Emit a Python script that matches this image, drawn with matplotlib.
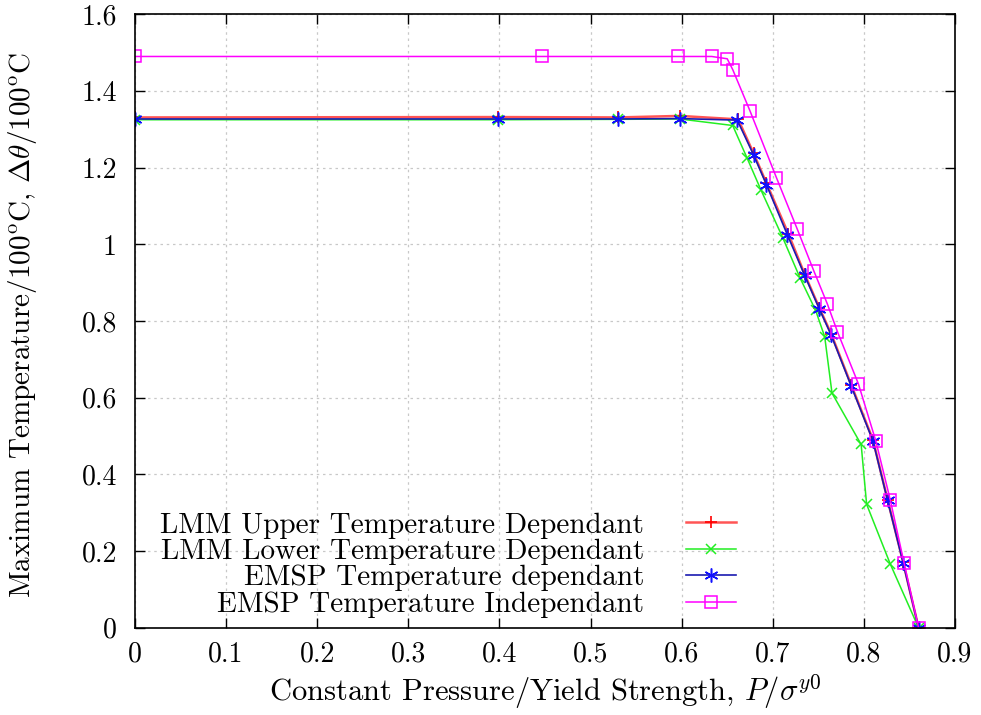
import matplotlib
matplotlib.use('Agg')
import matplotlib.pyplot as plt
from matplotlib.ticker import FuncFormatter, MultipleLocator

plt.rcParams['font.family'] = ['cmr10', 'DejaVu Serif']
plt.rcParams['mathtext.fontset'] = 'cm'
plt.rcParams['axes.formatter.use_mathtext'] = True

# LMM upper temperature dependant
xUpper = [0.0, 0.398, 0.530, 0.598, 0.662, 0.679, 0.693, 0.717, 0.735, 0.751, 0.764, 0.786, 0.810, 0.826, 0.843, 0.860]
yUpper = [1.331, 1.332, 1.331, 1.335, 1.326, 1.237, 1.160, 1.028, 0.922, 0.835, 0.767, 0.634, 0.490, 0.334, 0.172, 0.0]

# LMM lower temperature dependant
xLower = [0.0, 0.398, 0.530, 0.598, 0.656, 0.672, 0.687, 0.711, 0.730, 0.747, 0.757, 0.765, 0.797, 0.803, 0.829, 0.860]
yLower = [1.325, 1.325, 1.326, 1.327, 1.310, 1.224, 1.142, 1.017, 0.912, 0.828, 0.759, 0.612, 0.478, 0.322, 0.166, 0.0]

# EMSP temperature dependant
xEmsp = [0.0, 0.398, 0.530, 0.598, 0.661, 0.679, 0.693, 0.716, 0.735, 0.751, 0.764, 0.786, 0.810, 0.826, 0.843, 0.860]
yEmsp = [1.327, 1.327, 1.327, 1.328, 1.324, 1.233, 1.156, 1.025, 0.919, 0.832, 0.764, 0.631, 0.487, 0.332, 0.170, 0.0]

# EMSP temperature independant
xIndep = [0.0, 0.447, 0.596, 0.633, 0.650, 0.656, 0.675, 0.704, 0.727, 0.745, 0.760, 0.771, 0.794, 0.813, 0.829, 0.844, 0.860]
yIndep = [1.490, 1.490, 1.490, 1.490, 1.484, 1.456, 1.348, 1.174, 1.039, 0.931, 0.844, 0.772, 0.636, 0.488, 0.333, 0.170, 0.0]

fig = plt.figure(figsize=(9.81, 7.15), dpi=100)
ax = fig.add_axes([0.1376, 0.122, 0.8359, 0.858])

ax.plot(xUpper, yUpper, color='#ff5555', lw=1.8, marker='+', ms=9, mec='#ff0000', mew=1.2,
        label='LMM Upper Temperature Dependant')
ax.plot(xLower, yLower, color='#22ee22', lw=1.1, marker='x', ms=7, mew=1.1,
        label='LMM Lower Temperature Dependant')
ax.plot(xEmsp, yEmsp, color='#1a1ab0', lw=1.2, marker=(6, 2, 0), ms=10, mec='#1010ff', mew=1.1,
        label='EMSP Temperature dependant')
ax.plot(xIndep, yIndep, color='#ff00ff', lw=1.1, marker='s', ms=8, mfc='none', mew=1.1,
        label='EMSP Temperature Independant')

ax.set_xlim(0, 0.9)
ax.set_ylim(0, 1.6)
ax.xaxis.set_major_locator(MultipleLocator(0.1))
ax.yaxis.set_major_locator(MultipleLocator(0.2))
fmt = FuncFormatter(lambda v, p: '%g' % round(v, 3))
ax.xaxis.set_major_formatter(fmt)
ax.yaxis.set_major_formatter(fmt)
ax.tick_params(direction='in', length=7, width=1, top=True, right=True, labelsize=20)
ax.tick_params(axis='x', pad=10)
ax.tick_params(axis='y', pad=13)
ax.grid(True, color='#c8c8c8', linestyle=(0, (2, 3)), lw=0.9)
for s in ax.spines.values():
    s.set_linewidth(1.2)

ax.set_xlabel(r'Constant Pressure/Yield Strength, $P/\sigma^{y0}$', fontsize=22, labelpad=3)
ax.set_ylabel(r'Maximum Temperature/100$^{\rm o}$C, $\Delta\theta$/100$^{\rm o}$C', fontsize=21)
ax.yaxis.set_label_coords(-0.117, 0.493)

ax.legend(loc='lower right', bbox_to_anchor=(0.747, -0.003), frameon=False, markerfirst=False,
          fontsize=21, handlelength=1.7, handletextpad=1.45, labelspacing=0.0, borderaxespad=0.0)

fig.savefig('out.png', dpi=100)
